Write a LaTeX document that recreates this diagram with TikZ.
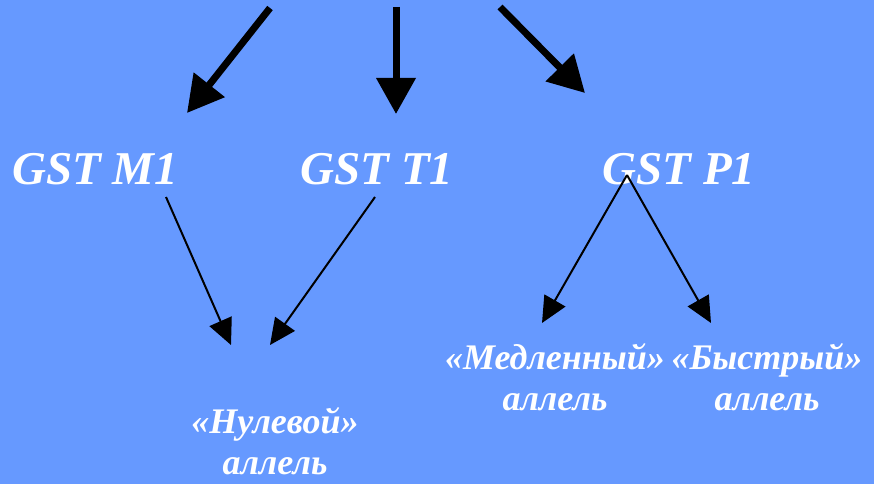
\documentclass[tikz,border=0pt]{standalone}
\usepackage{fontspec}
\setmainfont{Liberation Serif}
\usetikzlibrary{arrows.meta,positioning}
\definecolor{slideblue}{RGB}{102,153,255}

\begin{document}
\begin{tikzpicture}[x=1pt,y=-1pt,
    gene/.style={text=white,font=\fontsize{47}{50}\selectfont\bfseries\itshape},
    allele/.style={text=white,align=center,inner sep=0pt,font=\fontsize{36}{41}\selectfont\bfseries\itshape},
    bigarrow/.style={line width=7pt,-{Triangle[length=36pt,width=38pt]}},
    thinarrow/.style={line width=2pt,-{Triangle[length=26pt,width=24pt]}}]
                    \fill[slideblue] (0,0) rectangle (874,484);
                    \useasboundingbox (0,0) rectangle (874,484);
                    % genes
                    \node[gene] (m1) at (95,169) {GST M1};
                    \node[gene] (t1) at (377,169) {GST T1};
                    \node[gene] (p1) at (679,169) {GST P1};
                    % alleles
                    \node[allele] (null) at (275,441) {«Нулевой»\\аллель};
                    \node[allele] (slow) at (555,377) {«Медленный»\\аллель};
                    \node[allele] (fast) at (767,377) {«Быстрый»\\аллель};
                    % arrow ends
                    \coordinate (topm) at (270,8);
                    \coordinate (topt) at (396,7);
                    \coordinate (topp) at (500,7);
                    \coordinate (m1in) at (187,113);
                    \coordinate (t1in) at (396,114);
                    \coordinate (p1in) at (585,93);
                    \coordinate (m1out) at (166,197);
                    \coordinate (t1out) at (375,197);
                    \coordinate (p1out) at (627,175);
                    \coordinate (nullm) at (231,345);
                    \coordinate (nullt) at (270,345);
                    \coordinate (slowin) at (542,323);
                    \coordinate (fastin) at (711,323);
                    \draw[bigarrow] (topm) -- (m1in);
                    \draw[bigarrow] (topt) -- (t1in);
                    \draw[bigarrow] (topp) -- (p1in);
                    \draw[thinarrow] (m1out) -- (nullm);
                    \draw[thinarrow] (t1out) -- (nullt);
                    \draw[thinarrow] (p1out) -- (slowin);
                    \draw[thinarrow] (p1out) -- (fastin);
                \end{tikzpicture}
\end{document}
